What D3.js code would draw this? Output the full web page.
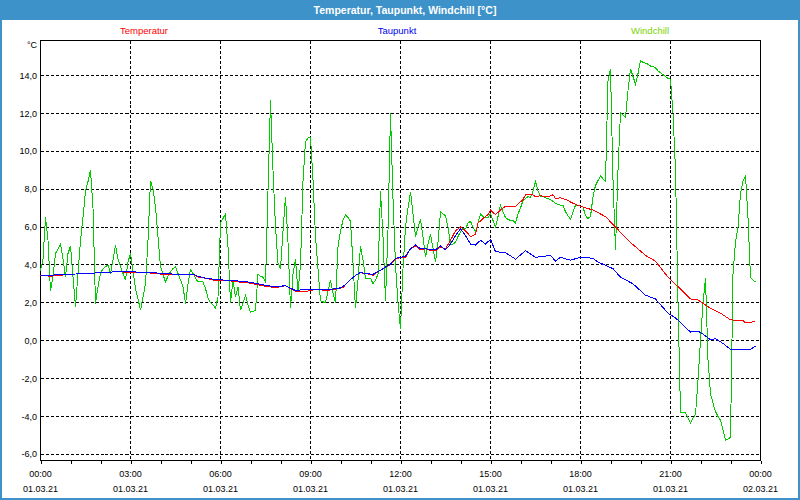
<!DOCTYPE html>
<html lang="de">
<head>
<meta charset="UTF-8" />
<title>Temperatur, Taupunkt, Windchill</title>
<script src="https://d3js.org/d3.v7.min.js"></script>
<style>
  body { margin: 0; background: #fff; }
  svg { display: block; font-family: "Liberation Sans", Arial, sans-serif; }
</style>
</head>
<body>
<div id="chart"></div>
<script>
// readings for 01.03.21, time of day -> degrees C
const temperatur = [
  ["00:00",3.45],["00:20",3.4],["00:40",3.45],["00:55",3.5],["01:35",3.55],["02:10",3.6],["02:35",3.65],
  ["02:55",3.6],["03:25",3.6],["03:35",3.58],["04:05",3.5],["04:35",3.5],["05:05",3.5],["05:15",3.35],
  ["05:30",3.3],["05:45",3.2],["06:05",3.2],["06:20",3.15],["06:35",3.1],["06:55",3.05],["07:15",2.95],
  ["07:35",2.85],["07:50",2.8],["08:10",2.9],["08:30",2.6],["08:50",2.6],["09:10",2.7],["09:35",2.65],
  ["09:55",2.75],["10:05",2.8],["10:15",3.1],["10:30",3.45],["10:40",3.58],["10:50",3.55],["11:05",3.45],
  ["11:15",3.65],["11:25",3.8],["11:40",4.0],["11:50",4.3],["12:00",4.4],["12:10",4.4],["12:20",4.85],
  ["12:30",5.0],["12:40",4.8],["12:50",4.85],["13:00",4.75],["13:10",4.75],["13:20",4.95],["13:30",4.85],
  ["13:40",5.3],["13:50",5.8],["14:00",6.0],["14:10",5.8],["14:20",5.5],["14:30",5.6],["14:35",6.2],
  ["14:45",6.45],["14:55",6.65],["15:00",6.9],["15:10",6.65],["15:20",6.9],["15:30",7.1],["15:50",7.1],
  ["16:05",7.45],["16:10",7.7],["16:25",7.7],["16:30",7.6],["16:40",7.65],["16:55",7.6],["17:05",7.7],
  ["17:10",7.5],["17:20",7.55],["17:35",7.4],["17:45",7.25],["17:55",7.15],["18:05",7.05],["18:25",6.9],
  ["18:50",6.55],["19:10",6.0],["19:35",5.3],["20:10",4.5],["20:30",4.2],["20:55",3.35],["21:15",2.85],
  ["21:40",2.2],["21:55",2.15],["22:20",1.7],["22:40",1.45],["23:00",1.1],["23:25",1.05],["23:30",0.95],
  ["23:50",1.0]
];

const taupunkt = [
  ["00:00",3.45],["00:20",3.45],["00:40",3.5],["00:55",3.5],["01:35",3.55],["02:10",3.6],["02:35",3.65],
  ["02:55",3.65],["03:25",3.6],["03:35",3.6],["04:05",3.55],["04:35",3.5],["05:05",3.5],["05:15",3.4],
  ["05:30",3.3],["05:45",3.25],["06:05",3.2],["06:20",3.2],["06:35",3.15],["06:55",3.1],["07:15",3.0],
  ["07:35",2.9],["07:50",2.85],["08:10",2.9],["08:30",2.65],["08:50",2.7],["09:10",2.7],["09:35",2.7],
  ["09:55",2.75],["10:05",2.85],["10:15",3.1],["10:30",3.45],["10:40",3.6],["10:50",3.55],["11:05",3.5],
  ["11:15",3.65],["11:25",3.8],["11:40",4.05],["11:50",4.35],["12:00",4.4],["12:10",4.45],["12:20",4.85],
  ["12:30",5.05],["12:40",4.85],["12:50",4.85],["13:00",4.8],["13:10",4.8],["13:20",5.0],["13:30",4.8],
  ["13:40",5.1],["13:50",5.55],["14:00",5.9],["14:10",5.55],["14:20",5.1],["14:30",5.05],["14:40",5.3],
  ["14:50",5.1],["15:00",5.35],["15:10",4.7],["15:30",4.65],["15:50",4.3],["16:10",4.75],["16:30",4.4],
  ["17:00",4.5],["17:10",4.2],["17:20",4.4],["17:40",4.25],["18:00",4.4],["18:25",4.35],["18:35",4.15],
  ["19:05",3.8],["19:20",3.35],["19:45",3.0],["20:10",2.4],["20:30",2.2],["20:55",1.45],["21:10",1.2],
  ["21:40",0.45],["21:55",0.5],["22:05",0.35],["22:20",0.05],["22:30",0.1],["22:45",-0.15],["23:00",-0.45],
  ["23:25",-0.45],["23:40",-0.45],["23:50",-0.3]
];

const windchill = [
  ["00:00",3.7],["00:05",4.3],["00:10",6.5],["00:15",5.3],["00:20",2.6],["00:25",3.4],["00:30",4.6],
  ["00:40",5.1],["00:45",4.3],["00:50",3.35],["00:55",4.6],["01:00",5.0],["01:05",3.35],["01:10",1.8],
  ["01:15",3.55],["01:20",5.3],["01:25",6.5],["01:30",7.9],["01:35",8.4],["01:40",9.0],["01:45",7.0],
  ["01:50",1.95],["01:55",2.85],["02:00",3.55],["02:05",3.8],["02:10",3.9],["02:15",4.0],["02:20",3.55],
  ["02:25",4.25],["02:30",5.05],["02:35",4.3],["02:40",3.9],["02:45",3.55],["02:50",3.2],["02:55",4.15],
  ["03:00",4.6],["03:05",3.7],["03:10",2.75],["03:15",2.2],["03:20",1.6],["03:25",2.3],["03:30",3.0],
  ["03:35",5.3],["03:40",8.45],["03:45",8.0],["03:50",7.05],["03:55",5.5],["04:00",3.9],["04:05",3.5],
  ["04:10",3.1],["04:15",3.4],["04:20",3.65],["04:25",3.8],["04:30",3.9],["04:35",3.55],["04:40",3.2],
  ["04:45",2.85],["04:50",1.95],["04:55",3.0],["05:00",3.75],["05:05",3.55],["05:10",3.3],["05:15",3.1],
  ["05:20",3.1],["05:25",3.1],["05:30",2.75],["05:35",2.25],["05:40",2.0],["05:45",1.9],["05:50",1.7],
  ["05:55",2.3],["06:00",6.2],["06:05",6.45],["06:10",6.7],["06:15",4.95],["06:20",2.0],["06:25",3.2],
  ["06:30",2.3],["06:35",2.85],["06:40",1.6],["06:45",2.0],["06:50",2.4],["06:55",1.9],["07:00",1.5],
  ["07:05",1.55],["07:10",1.6],["07:15",3.5],["07:20",3.4],["07:25",3.35],["07:30",3.1],["07:35",7.9],
  ["07:40",12.7],["07:45",9.0],["07:50",6.0],["07:55",4.1],["08:00",3.8],["08:05",5.8],["08:10",7.6],
  ["08:15",5.2],["08:20",1.7],["08:25",3.5],["08:30",4.3],["08:35",2.6],["08:40",4.0],["08:45",8.4],
  ["08:50",10.5],["08:55",10.7],["09:00",10.75],["09:05",8.5],["09:10",5.5],["09:15",3.8],["09:20",2.1],
  ["09:25",2.05],["09:30",2.0],["09:35",2.6],["09:40",3.2],["09:45",2.5],["09:50",2.0],["09:55",4.95],
  ["10:00",5.8],["10:05",6.35],["10:10",6.65],["10:15",6.5],["10:20",6.3],["10:25",4.1],["10:30",1.7],
  ["10:35",3.2],["10:40",5.0],["10:45",4.25],["10:50",3.3],["10:55",3.3],["11:00",3.3],["11:05",3.0],
  ["11:10",3.2],["11:15",3.5],["11:20",7.9],["11:25",5.5],["11:30",2.1],["11:35",5.8],["11:40",12.0],
  ["11:45",7.5],["11:50",4.0],["11:55",2.0],["12:00",0.6],["12:05",3.8],["12:10",6.0],["12:15",7.0],
  ["12:20",7.85],["12:25",6.7],["12:30",5.5],["12:35",6.0],["12:40",6.4],["12:45",5.5],["12:50",4.4],
  ["12:55",5.1],["13:00",5.6],["13:05",4.9],["13:10",4.15],["13:15",5.2],["13:20",6.8],["13:25",6.7],
  ["13:30",6.6],["13:35",6.0],["13:40",5.1],["13:45",5.1],["13:50",5.2],["13:55",5.5],["14:00",5.75],
  ["14:05",5.9],["14:10",5.9],["14:15",6.2],["14:20",6.3],["14:25",6.0],["14:30",5.75],["14:35",6.2],
  ["14:40",6.7],["14:45",6.55],["14:50",6.5],["14:55",6.5],["15:00",6.7],["15:05",6.35],["15:10",6.0],
  ["15:15",6.55],["15:20",7.15],["15:25",6.8],["15:30",6.5],["15:35",6.4],["15:40",6.35],["15:45",6.35],
  ["15:50",6.2],["15:55",6.7],["16:00",7.0],["16:05",7.4],["16:10",7.5],["16:15",7.6],["16:20",7.55],
  ["16:25",7.9],["16:30",8.4],["16:35",7.9],["16:40",7.6],["16:45",7.6],["16:50",7.55],["16:55",7.5],
  ["17:00",7.45],["17:05",7.35],["17:10",7.25],["17:15",7.2],["17:20",7.15],["17:25",7.15],["17:30",6.8],
  ["17:35",6.6],["17:40",6.4],["17:45",6.8],["17:50",7.15],["17:55",7.15],["18:00",7.1],["18:05",7.05],
  ["18:10",6.6],["18:15",6.45],["18:20",6.55],["18:25",7.6],["18:30",8.2],["18:35",8.45],["18:40",8.7],
  ["18:45",8.55],["18:50",8.4],["18:55",13.7],["19:00",14.35],["19:05",8.5],["19:10",4.8],["19:15",9.0],
  ["19:20",12.05],["19:25",11.9],["19:30",11.8],["19:35",13.2],["19:40",14.35],["19:45",13.95],["19:50",13.55],
  ["19:55",14.1],["20:00",14.8],["20:05",14.7],["20:10",14.65],["20:15",14.6],["20:20",14.5],["20:25",14.5],
  ["20:30",14.4],["20:35",14.25],["20:40",14.15],["20:45",14.05],["20:50",13.95],["20:55",13.85],["21:00",13.8],
  ["21:05",12.0],["21:10",9.0],["21:15",2.0],["21:20",-3.8],["21:25",-3.8],["21:30",-3.8],["21:35",-4.1],
  ["21:40",-4.35],["21:45",-4.1],["21:50",-3.9],["21:55",-2.1],["22:00",0.0],["22:05",1.95],["22:10",3.3],
  ["22:15",-1.0],["22:20",-2.8],["22:25",-3.3],["22:30",-3.75],["22:35",-4.0],["22:40",-4.2],["22:45",-4.7],
  ["22:50",-5.25],["22:55",-5.2],["23:00",-5.1],["23:05",3.5],["23:10",5.2],["23:15",6.0],["23:20",7.75],
  ["23:25",8.45],["23:30",8.7],["23:35",6.5],["23:40",3.35],["23:45",3.2],["23:50",3.1]
];

const yTicks = [-6, -4, -2, 0, 2, 4, 6, 8, 10, 12, 14];
const legend = [
  { name: "Temperatur", color: "#ff0000" },
  { name: "Taupunkt", color: "#0000ee" },
  { name: "Windchill", color: "#7ad400" }
];
const title = "Temperatur, Taupunkt, Windchill [°C]";
const unit = "°C";

const W = 800, H = 500;
const box = { left: 40.5, top: 40.5, right: 760.5, bottom: 460.5 };
const frameColor = "#3d92c9";

const de = d3.formatLocale({ decimal: ",", thousands: ".", grouping: [3], currency: ["", " €"], minus: "-" });
const fmtY = de.format(".1f");
const fmtHour = d3.timeFormat("%H:%M");
const fmtDay = d3.timeFormat("%d.%m.%y");

function parseTime(s) {
  const p = s.split(":");
  return new Date(2021, 2, 1, +p[0], +p[1]);
}
function toPoints(arr) {
  return arr.map(d => ({ t: parseTime(d[0]), v: d[1] }));
}

const start = new Date(2021, 2, 1), end = new Date(2021, 2, 2);
const x = d3.scaleTime().domain([start, end]).range([box.left, box.right]);
const y = d3.scaleLinear().domain([-6.33, 15.85]).range([box.bottom, box.top]);

const svg = d3.select("#chart").append("svg")
  .attr("width", W).attr("height", H);

// window frame + title bar
svg.append("rect").attr("x", 0).attr("y", 0).attr("width", W).attr("height", 20)
  .attr("fill", frameColor);
svg.append("rect").attr("x", 1).attr("y", 1).attr("width", W - 2).attr("height", H - 2)
  .attr("fill", "none").attr("stroke", frameColor).attr("stroke-width", 2);
svg.append("text").attr("x", 405).attr("y", 14)
  .attr("text-anchor", "middle").attr("fill", "#fff")
  .attr("font-size", "10.5px").attr("font-weight", "bold")
  .text(title);

// legend
svg.selectAll(".leg").data(legend).enter().append("text")
  .attr("class", "leg")
  .attr("x", (d, i) => 144 + i * 253)
  .attr("y", 34)
  .attr("text-anchor", "middle")
  .attr("font-size", "9.5px")
  .attr("fill", d => d.color)
  .text(d => d.name);

// grid
const grid = svg.append("g").attr("shape-rendering", "crispEdges")
  .attr("stroke", "#000").attr("stroke-dasharray", "3,2");
grid.selectAll(".hg").data(yTicks).enter().append("line")
  .attr("x1", box.left).attr("x2", box.right)
  .attr("y1", d => y(d)).attr("y2", d => y(d));
const majors = d3.timeHour.every(3).range(start, d3.timeMinute.offset(end, 1));
grid.selectAll(".vg").data(majors.slice(1, -1)).enter().append("line")
  .attr("x1", d => x(d)).attr("x2", d => x(d))
  .attr("y1", box.top).attr("y2", box.bottom);

// y labels
svg.selectAll(".yl").data(yTicks).enter().append("text")
  .attr("x", 37).attr("y", d => y(d)).attr("dy", "0.35em")
  .attr("text-anchor", "end").attr("font-size", "9px").attr("fill", "#000")
  .text(d => fmtY(d));
svg.append("text").attr("x", 37).attr("y", 45).attr("dy", "0.35em")
  .attr("text-anchor", "end").attr("font-size", "9px").text(unit);

// x axis: hourly ticks, labels every 3h
const xAxis = d3.axisBottom(x).ticks(d3.timeHour.every(1)).tickSize(3).tickFormat("");
const gx = svg.append("g").attr("transform", `translate(0,${box.bottom})`)
  .attr("shape-rendering", "crispEdges").call(xAxis);
gx.select(".domain").remove();
gx.selectAll("line").attr("stroke", "#000");

const xl = svg.selectAll(".xl").data(majors).enter().append("text")
  .attr("text-anchor", "middle").attr("font-size", "9px").attr("fill", "#000");
xl.append("tspan").attr("x", d => x(d)).attr("y", 477).text(d => fmtHour(d));
xl.append("tspan").attr("x", d => x(d)).attr("y", 492).text(d => fmtDay(d));

// plot frame
svg.append("rect").attr("x", box.left).attr("y", box.top)
  .attr("width", box.right - box.left).attr("height", box.bottom - box.top)
  .attr("fill", "none").attr("stroke", "#000").attr("shape-rendering", "crispEdges");

// series
const line = d3.line().x(d => x(d.t)).y(d => y(d.v));
const series = [
  { data: windchill, color: "#00cc00" },
  { data: temperatur, color: "#ff0000" },
  { data: taupunkt, color: "#0000ff" }
];
svg.selectAll(".series").data(series).enter().append("path")
  .attr("fill", "none")
  .attr("stroke", d => d.color)
  .attr("stroke-width", 1)
  .attr("shape-rendering", "crispEdges")
  .attr("d", d => line(toPoints(d.data)));
</script>
</body>
</html>
